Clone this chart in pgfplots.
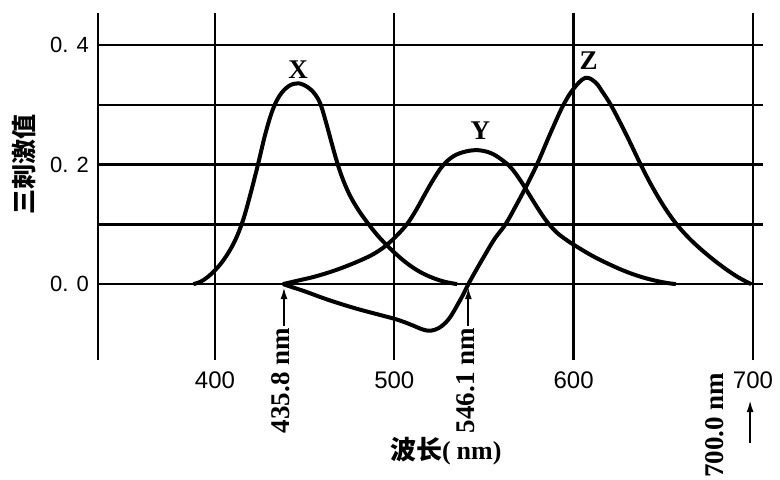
\documentclass[border=0pt]{standalone}
\usepackage{pgfplots}
\pgfplotsset{compat=1.18}
\usepackage{fontspec}
\setmainfont{Liberation Serif}
\setsansfont{Liberation Sans}
\newfontfamily\cjk{Noto Sans CJK SC}
\usetikzlibrary{arrows.meta}
\begin{document}
\begin{tikzpicture}
\useasboundingbox (-49pt,-59.5pt) rectangle (341pt,180pt);
\begin{axis}[
  at={(0pt,0pt)}, anchor=south west,
  scale only axis, width=332.5pt, height=173.5pt,
  xmin=334.8, xmax=705.6, ymin=-0.127, ymax=0.4536,
  axis line style={draw=none},
  xtick={400,500,600,700},
  xticklabels={400,500,600,700},
  ytick={0,0.1,0.2,0.3,0.4},
  yticklabels={0. 0,{},0. 2,{},0. 4},
  major tick length=0pt,
  grid=major,
  major grid style={black, line width=1.2pt},
  xticklabel style={font=\sffamily\fontsize{12}{14}\selectfont, yshift=-2.5pt},
  yticklabel style={font=\sffamily\fontsize{11}{13}\selectfont, xshift=-1pt},
  /pgf/number format/assume math mode=true,
  clip=false,
  ylabel={\cjk\bfseries 三刺激值},
  ylabel style={at={(axis description cs:-0.111,0.562)}, anchor=center, font=\fontsize{12.5}{14}\selectfont},
  xlabel={{\cjk\bfseries 波长}\textbf{(\hspace{3pt}nm)}},
  xlabel style={at={(axis description cs:0.523,-0.262)}, anchor=center, font=\fontsize{13}{15}\selectfont},
]
% left axis line
\draw[line width=1.3pt] (rel axis cs:0,0) -- (rel axis cs:0,1);

% X curve
\addplot[smooth, tension=0.6, line width=2pt] coordinates {
(388,0) (392,0.004) (396,0.012) (400,0.023) (404,0.037) (408,0.055) (412,0.078)
(416,0.11) (420,0.153) (424,0.2) (428,0.25) (432,0.29) (436,0.315) (441,0.331)
(446.5,0.336) (452,0.329) (456,0.317) (459,0.3) (462,0.27) (465,0.237)
(468,0.205) (471,0.178) (475,0.15) (480,0.124) (486,0.099) (492,0.077) (500,0.053)
(507,0.035) (514,0.021) (521,0.011) (528,0.004) (535,0)
};
% Y curve
\addplot[smooth, tension=0.6, line width=2pt] coordinates {
(437.9,0) (445,0.005) (455,0.012) (465,0.021) (475,0.032) (485,0.045) (491,0.055)
(496,0.066) (501,0.08) (507,0.1) (512,0.123) (517,0.15) (522,0.176) (527,0.198)
(533,0.214) (540,0.222) (547,0.224) (554,0.219) (560,0.208) (565,0.195) (570,0.175)
(575,0.151) (580,0.127) (585,0.105) (590,0.088) (595,0.076) (600,0.066) (610,0.048)
(620,0.033) (630,0.02) (640,0.01) (650,0.003) (657,0)
};
% Z curve
\addplot[smooth, tension=0.6, line width=2pt] coordinates {
(437.9,0) (450,-0.012) (460,-0.023) (470,-0.033) (480,-0.042) (490,-0.05)
(500,-0.058) (506,-0.064) (511,-0.07) (515,-0.075) (519,-0.078) (523,-0.076)
(527,-0.069) (531,-0.056) (535,-0.036) (538.5,-0.017) (541.3,0)
(545,0.02) (550,0.046) (556,0.076) (562,0.1) (568,0.132) (574,0.166) (580,0.203)
(587,0.252) (594,0.298) (600,0.327) (606.5,0.345) (612,0.338) (616,0.322) (620.7,0.3)
(626,0.27) (631,0.24) (637.4,0.2) (644,0.162) (651,0.127) (658,0.098) (666,0.072)
(675,0.048) (684,0.027) (692,0.011) (699,0)
};

% curve labels
\node[font=\bfseries\fontsize{13.5}{16}\selectfont] at (axis cs:446.4,0.358) {X};
\node[font=\bfseries\fontsize{13.5}{16}\selectfont] at (axis cs:548,0.257) {Y};
\node[font=\bfseries\fontsize{13.5}{16}\selectfont] at (axis cs:608.4,0.374) {Z};

% wavelength markers
\node[rotate=90, anchor=east, inner sep=0pt, font=\bfseries\fontsize{13.5}{16}\selectfont] at (axis cs:436.8,-0.073) {435.8 nm};
\draw[-{Latex[length=6pt,width=3.5pt]}, line width=1pt] (axis cs:438.5,-0.070) -- (axis cs:438.5,-0.005);
\node[rotate=90, anchor=east, inner sep=0pt, font=\bfseries\fontsize{13.5}{16}\selectfont] at (axis cs:539.8,-0.073) {546.1 nm};
\draw[-{Latex[length=6pt,width=3.5pt]}, line width=1pt] (axis cs:541.3,-0.070) -- (axis cs:541.3,-0.005);
\node[rotate=90, anchor=east, inner sep=0pt, font=\bfseries\fontsize{13.5}{16}\selectfont] at (axis cs:678.9,-0.148) {700.0 nm};
\draw[-{Latex[length=6pt,width=3.5pt]}, line width=1pt] (axis cs:698.4,-0.266) -- (axis cs:698.4,-0.194);
\end{axis}
\end{tikzpicture}
\end{document}
